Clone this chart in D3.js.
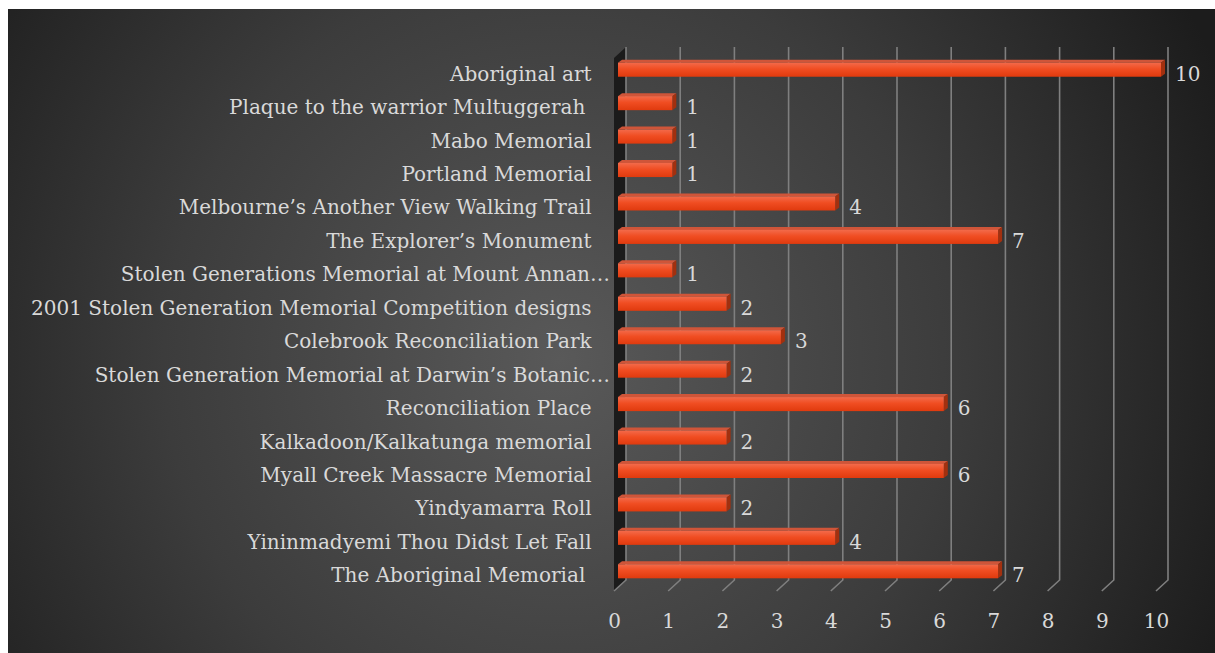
<!DOCTYPE html>
<html>
<head>
<meta charset="utf-8">
<script src="https://cdn.jsdelivr.net/npm/d3@7"></script>
<style>
  html, body { margin: 0; padding: 0; background: #ffffff; }
  svg text { font-family: "DejaVu Serif", serif; fill: #d9d9d9; white-space: pre; }
</style>
</head>
<body>
<div id="chart"></div>
<script>
// Categories top to bottom, as shown in the chart
const categories = [
    "Aboriginal art ",
    "Plaque to the warrior Multuggerah  ",
    "Mabo Memorial ",
    "Portland Memorial ",
    "Melbourne\u2019s Another View Walking Trail ",
    "The Explorer\u2019s Monument ",
    "Stolen Generations Memorial at Mount Annan\u2026",
    "2001 Stolen Generation Memorial Competition designs ",
    "Colebrook Reconciliation Park ",
    "Stolen Generation Memorial at Darwin\u2019s Botanic\u2026",
    "Reconciliation Place ",
    "Kalkadoon/Kalkatunga memorial ",
    "Myall Creek Massacre Memorial ",
    "Yindyamarra Roll ",
    "Yininmadyemi Thou Didst Let Fall ",
    "The Aboriginal Memorial  "
];
const values = [10, 1, 1, 1, 4, 7, 1, 2, 3, 2, 6, 2, 6, 2, 4, 7];
const tickValues = [0, 1, 2, 3, 4, 5, 6, 7, 8, 9, 10];

const W = 1215, H = 653;
// 3D depth offsets between back wall and front floor
const depthX = -12, depthY = 11;

const svg = d3.select("#chart")
    .append("svg")
    .attr("width", W)
    .attr("height", H);

const defs = svg.append("defs");

// radial background like the Excel chart style
const bg = defs.append("radialGradient")
    .attr("id", "bg")
    .attr("gradientUnits", "userSpaceOnUse")
    .attr("cx", 560).attr("cy", 360).attr("r", 720);
bg.append("stop").attr("offset", "0%").attr("stop-color", "#595959");
bg.append("stop").attr("offset", "55%").attr("stop-color", "#3c3c3c");
bg.append("stop").attr("offset", "100%").attr("stop-color", "#1c1c1c");

const barGrad = defs.append("linearGradient")
    .attr("id", "barFront")
    .attr("x1", 0).attr("y1", 0).attr("x2", 0).attr("y2", 1);
barGrad.append("stop").attr("offset", "0%").attr("stop-color", "#f36a4a");
barGrad.append("stop").attr("offset", "45%").attr("stop-color", "#f04d22");
barGrad.append("stop").attr("offset", "100%").attr("stop-color", "#e03a0e");

svg.append("rect")
    .attr("x", 8).attr("y", 9)
    .attr("width", W - 8).attr("height", H - 9)
    .attr("fill", "url(#bg)");

// scales: back wall, bar front face, floor front edge
const xBack = d3.scaleLinear().domain([0, 10]).range([626, 1168]);
const xBar = d3.scaleLinear().domain([0, 10]).range([618, 1161]);
const xFloor = d3.scaleLinear().domain([0, 10]).range([614, 1156]);

const y = d3.scaleBand()
    .domain(categories)
    .range([53, 588])
    .paddingInner(0.58)
    .paddingOuter(0.29);

const wallTop = 47, wallBottom = 580;

// left side wall (dark)
svg.append("polygon")
    .attr("points", [
        [xBack(0), wallTop],
        [xBack(0), wallBottom],
        [xBack(0) + depthX, wallBottom + depthY],
        [xBack(0) + depthX, wallTop + depthY]
    ].map(p => p.join(",")).join(" "))
    .attr("fill", "#1b1b1b");

// gridlines on the back wall with floor slant
svg.append("g")
    .selectAll("path")
    .data(tickValues)
    .enter()
    .append("path")
    .attr("d", d => `M${xBack(d)},${wallTop}V${wallBottom}l${depthX},${depthY}`)
    .attr("fill", "none")
    .attr("stroke", "#7f7f7f")
    .attr("stroke-width", 1.6);

// bars
const bars = svg.append("g")
    .selectAll("g")
    .data(categories)
    .enter()
    .append("g");

const bh = y.bandwidth();
const dx = 4, dy = -3;

// top face
bars.append("polygon")
    .attr("points", (d, i) => {
        const x0 = xBar(0), x1 = xBar(values[i]), yt = y(d);
        return [[x0, yt], [x0 + dx, yt + dy], [x1 + dx, yt + dy], [x1, yt]]
            .map(p => p.join(",")).join(" ");
    })
    .attr("fill", "#cf5539");

// side face
bars.append("polygon")
    .attr("points", (d, i) => {
        const x1 = xBar(values[i]), yt = y(d);
        return [[x1, yt], [x1 + dx, yt + dy], [x1 + dx, yt + dy + bh], [x1, yt + bh]]
            .map(p => p.join(",")).join(" ");
    })
    .attr("fill", "#a2300f");

// front face
bars.append("rect")
    .attr("x", xBar(0))
    .attr("y", d => y(d))
    .attr("width", (d, i) => xBar(values[i]) - xBar(0))
    .attr("height", bh)
    .attr("fill", "url(#barFront)");

// data labels
bars.append("text")
    .attr("x", (d, i) => xBar(values[i]) + 14)
    .attr("y", d => y(d) + bh / 2 + 4)
    .attr("dy", "0.35em")
    .attr("font-size", 20)
    .text((d, i) => values[i]);

// category labels
svg.append("g")
    .selectAll("text")
    .data(categories)
    .enter()
    .append("text")
    .attr("x", d => d.endsWith("\u2026") ? 610 : 598)
    .attr("y", d => y(d) + bh / 2 + 4)
    .attr("dy", "0.35em")
    .attr("text-anchor", "end")
    .attr("font-size", 20)
    .text(d => d);

// value axis along the front floor edge
const axis = svg.append("g")
    .attr("transform", `translate(0,${wallBottom + depthY + 30})`)
    .call(d3.axisBottom(xFloor).tickValues(tickValues).tickSize(0).tickPadding(0));
axis.select(".domain").remove();
axis.selectAll("text")
    .attr("font-size", 20)
    .attr("font-family", "DejaVu Serif, serif")
    .attr("fill", "#d9d9d9")
    .attr("dy", "0.35em")
    .attr("y", 0);
</script>
</body>
</html>
